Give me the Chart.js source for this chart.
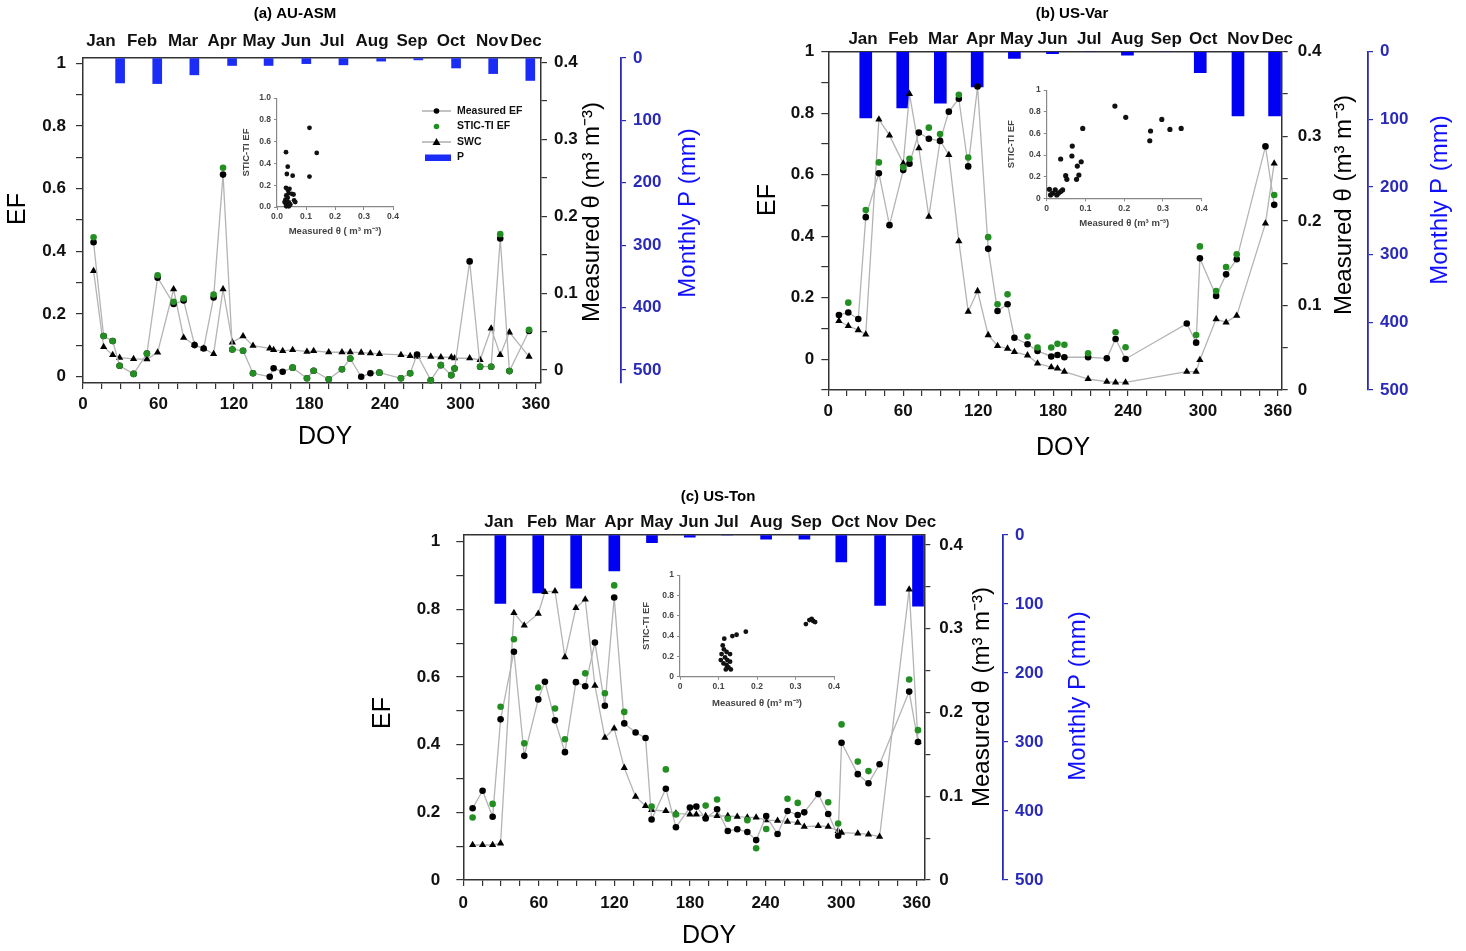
<!DOCTYPE html>
<html>
<head>
<meta charset="utf-8">
<script src="https://cdn.jsdelivr.net/npm/chart.js@4.4.1/dist/chart.umd.min.js"></script>
<style>
  body { margin: 0; background: #fff; width: 1466px; height: 951px; position: relative; overflow: hidden; }
  canvas { position: absolute; }
</style>
</head>
<body>
<canvas id="mainA"></canvas>
<canvas id="mainB"></canvas>
<canvas id="mainC"></canvas>
<canvas id="insetA"></canvas>
<canvas id="insetB"></canvas>
<canvas id="insetC"></canvas>
<script>
// ---- shared tick labels ----
const months = ["Jan", "Feb", "Mar", "Apr", "May", "Jun", "Jul", "Aug", "Sep", "Oct", "Nov", "Dec"];
const doyTicks = [0, 15, 30, 45, 60, 75, 90, 105, 120, 135, 150, 165, 180, 195, 210, 225, 240, 255, 270, 285, 300, 315, 330, 345, 360];
const doyLabels = [0, 60, 120, 180, 240, 300, 360];
const efTicks = [0, 0.1, 0.2, 0.3, 0.4, 0.5, 0.6, 0.7, 0.8, 0.9, 1];
const efTicksB = [-0.1, 0, 0.1, 0.2, 0.3, 0.4, 0.5, 0.6, 0.7, 0.8, 0.9, 1];
const efLabels = [0, 0.2, 0.4, 0.6, 0.8, 1];
const thetaTicks = [0, 0.05, 0.1, 0.15, 0.2, 0.25, 0.3, 0.35, 0.4];
const thetaLabels = [0, 0.1, 0.2, 0.3, 0.4];
const pTicks = [0, 100, 200, 300, 400, 500];
const insetXTicks = [0, 0.1, 0.2, 0.3, 0.4];
const insetYTicks = [0, 0.2, 0.4, 0.6, 0.8, 1];

// ---- (a) AU-ASM ----
const doyA = [8.4, 16.4, 23.6, 29.1, 40.2, 50.8, 59.3, 72, 80, 88.7, 95.9, 103.8, 111.3, 118.7, 127.2, 135.1, 148.4, 151.5, 158.7, 166.6, 178, 183.3, 195.3, 205.8, 212.4, 221.1, 228.4, 235.6, 252.7, 260, 265.5, 276.4, 284.4, 292.7, 295.3, 307.3, 315.6, 324.4, 331.6, 338.9, 354.5];
const efA = [0.429, 0.13, 0.114, 0.035, 0.009, 0.074, 0.316, 0.232, 0.243, 0.101, 0.09, 0.253, 0.645, 0.087, 0.083, 0.011, 0.0, 0.027, 0.016, 0.029, -0.005, 0.019, -0.008, 0.024, 0.058, 0.0, 0.011, 0.013, -0.005, 0.011, 0.071, -0.011, 0.037, 0.005, 0.026, 0.368, 0.032, 0.032, 0.441, 0.018, 0.146];
const sticA = [0.445, 0.13, 0.114, 0.035, 0.009, 0.074, 0.324, 0.239, 0.25, null, null, 0.262, 0.667, 0.087, 0.083, 0.011, null, null, null, 0.029, -0.005, 0.019, -0.008, 0.024, 0.058, null, null, 0.013, -0.005, 0.011, null, -0.011, 0.037, 0.005, 0.026, null, 0.032, 0.032, 0.455, 0.018, 0.15];
const swcA = [0.129, 0.030, 0.0195, 0.016, 0.0143, 0.0139, 0.0229, 0.105, 0.042, 0.0325, 0.028, 0.0208, 0.105, 0.036, 0.044, 0.0316, 0.028, 0.026, 0.0247, 0.026, 0.0238, 0.0247, 0.023, 0.023, 0.023, 0.0226, 0.0217, 0.0209, 0.0196, 0.0183, 0.0174, 0.0174, 0.0165, 0.0165, 0.0152, 0.0152, 0.013, 0.054, 0.0196, 0.049, 0.0174];
const rainDoyA = [29.5, 59, 88.5, 118.5, 147.5, 177.5, 207, 237, 266.5, 296.5, 326, 355.5];
const rainA = [40, 41, 27, 12, 12, 9, 11, 5, 3, 16, 25, 36];
const monthPosA = [14.3, 46.9, 79.5, 110.5, 139.9, 169.3, 198, 229.7, 261.5, 292.5, 325.1, 352.1];
const insetThA = [0.112, 0.137, 0.112, 0.031, 0.037, 0.034, 0.054, 0.031, 0.037, 0.043, 0.04, 0.051, 0.057, 0.032, 0.037, 0.029, 0.034, 0.041, 0.063, 0.059, 0.030, 0.037, 0.046, 0.032, 0.041, 0.026];
const insetEfA = [0.727, 0.497, 0.279, 0.503, 0.37, 0.303, 0.288, 0.176, 0.158, 0.167, 0.127, 0.121, 0.115, 0.106, 0.085, 0.067, 0.055, 0.042, 0.045, 0.061, 0.030, 0.018, 0.024, 0.006, 0.006, 0.045];

// ---- (b) US-Var ----
const doyB = [8.5, 16, 24, 30, 40.5, 49, 60, 65, 72.5, 80.5, 89.5, 96.5, 104.5, 112, 119.5, 128, 135.5, 143.5, 149, 159.5, 167.5, 178.5, 183.5, 189, 208, 223, 230, 238, 287, 294.5, 297.5, 310.5, 318.5, 327, 350, 357];
const efB = [0.144, 0.152, 0.131, 0.462, 0.605, 0.436, 0.615, 0.636, 0.737, 0.717, 0.71, 0.805, 0.847, 0.627, 0.887, 0.359, 0.157, 0.179, 0.07, 0.049, 0.027, 0.009, 0.014, 0.0065, 0.0065, 0.003, 0.066, 0.001, 0.116, 0.054, 0.328, 0.206, 0.276, 0.325, 0.692, 0.502];
const sticB = [null, 0.184, null, 0.485, 0.64, null, 0.624, 0.652, null, 0.753, 0.732, null, 0.86, 0.656, null, 0.397, 0.179, 0.211, null, 0.074, 0.038, 0.038, 0.05, 0.047, 0.0195, null, 0.088, 0.039, null, 0.079, 0.367, 0.222, 0.30, 0.341, null, 0.534];
const swcB = [0.0816, 0.0757, 0.0709, 0.0658, 0.320, 0.301, 0.268, 0.350, 0.286, 0.205, 0.295, 0.278, 0.176, 0.0926, 0.117, 0.065, 0.052, 0.049, 0.045, 0.041, 0.0315, 0.027, 0.0256, 0.0217, 0.013, 0.00985, 0.009, 0.009, 0.0217, 0.0217, 0.0355, 0.0839, 0.08, 0.0879, 0.197, 0.268];
const rainDoyB = [30, 59.6, 89.7, 119.2, 149, 179.5, 209.5, 239.5, 269.5, 297.8, 328, 357.3];
const rainB = [98, 83, 76, 52, 10, 3, 0, 5, 0, 31, 95, 95];
const monthPosB = [27.8, 60, 92, 121.9, 150.8, 179.6, 208.9, 239.4, 270.6, 300.2, 332.2, 359.6];
const insetThB = [0.007, 0.010, 0.015, 0.022, 0.026, 0.030, 0.036, 0.041, 0.036, 0.049, 0.052, 0.065, 0.066, 0.093, 0.077, 0.079, 0.083, 0.089, 0.176, 0.204, 0.266, 0.268, 0.297, 0.318, 0.347];
const insetEfB = [0.083, 0.031, 0.046, 0.077, 0.031, 0.046, 0.062, 0.077, 0.363, 0.209, 0.175, 0.391, 0.483, 0.646, 0.175, 0.298, 0.215, 0.338, 0.852, 0.748, 0.532, 0.622, 0.729, 0.637, 0.646];

// ---- (c) US-Ton ----
const doyC = [7.4, 15.3, 23.3, 29.6, 40.2, 48.4, 59.5, 64.8, 72.8, 80.7, 89.4, 96.8, 104.5, 112.4, 119.8, 127.8, 136.8, 144.7, 149.5, 160.8, 168.8, 179.9, 185, 192.4, 201.5, 210, 217.5, 225.5, 232.5, 240.5, 249.5, 257.4, 265.5, 270.7, 281.8, 289.7, 297.6, 300.3, 313.2, 321.7, 330.5, 354, 361];
const efC = [0.212, 0.264, 0.187, 0.475, 0.675, 0.367, 0.534, 0.586, 0.472, 0.378, 0.585, 0.573, 0.702, 0.515, 0.835, 0.463, 0.436, 0.42, 0.179, 0.27, 0.156, 0.214, 0.217, 0.182, 0.209, 0.145, 0.15, 0.142, 0.118, 0.189, 0.136, 0.204, 0.192, 0.2, 0.254, 0.195, 0.131, 0.406, 0.313, 0.286, 0.342, 0.557, 0.408];
const sticC = [0.185, null, 0.225, 0.512, 0.712, 0.404, 0.569, null, 0.507, 0.416, null, 0.611, null, 0.552, 0.871, 0.497, null, null, 0.217, 0.327, 0.194, null, null, 0.22, 0.238, 0.181, null, 0.177, 0.094, 0.151, null, 0.24, 0.228, null, null, 0.23, 0.167, 0.46, 0.35, 0.322, null, 0.593, 0.443];
const swcC = [0.0418, 0.0418, 0.0418, 0.0438, 0.319, 0.304, 0.318, 0.344, 0.345, 0.266, 0.325, 0.335, 0.232, 0.170, 0.181, 0.134, 0.0995, 0.0884, 0.0836, 0.0824, 0.0796, 0.0784, 0.0784, 0.0764, 0.0764, 0.0764, 0.0756, 0.0748, 0.0748, 0.0716, 0.0708, 0.0697, 0.0685, 0.0637, 0.0645, 0.0637, 0.0585, 0.0565, 0.0557, 0.0545, 0.0517, 0.347, 0.165];
const rainDoyC = [29.4, 59.5, 89.6, 119.9, 149.8, 179.8, 209.5, 240.4, 270.8, 300.1, 330.9, 361];
const rainC = [99, 84, 77, 52, 11, 3, 0, 6, 6, 39, 102, 103];
const monthPosC = [28.3, 62.5, 93, 123.6, 153.6, 183.1, 208.9, 240.6, 272.4, 303.4, 332.5, 363];
const insetThC = [0.115, 0.136, 0.147, 0.171, 0.111, 0.114, 0.121, 0.108, 0.130, 0.117, 0.106, 0.123, 0.130, 0.113, 0.121, 0.126, 0.119, 0.132, 0.327, 0.336, 0.342, 0.346, 0.351];
const insetEfC = [0.374, 0.40, 0.413, 0.443, 0.308, 0.269, 0.243, 0.223, 0.223, 0.19, 0.164, 0.164, 0.148, 0.131, 0.115, 0.092, 0.072, 0.072, 0.518, 0.557, 0.570, 0.548, 0.538];

const FONT = "'Liberation Sans', Arial, sans-serif";
const FRAME = "#333";
const LINE = "#b4b4b4";
const GREEN = "#238f23";
const PAXIS = "#2a2ab8";

const near = (arr, v) => arr.some((l) => Math.abs(l - v) < 1e-6);
const fmt = (v) => String(Math.round(v * 100) / 100);

// text drawn on top of a chart: titles and axis names
const textPlugin = {
  id: "panelText",
  afterDraw(chart, args, opts) {
    const ctx = chart.ctx;
    (opts.items || []).forEach((t) => {
      ctx.save();
      ctx.font = t.font;
      ctx.fillStyle = t.color || "#000";
      ctx.textAlign = "center";
      ctx.textBaseline = "middle";
      ctx.translate(t.x, t.y);
      if (t.rot) ctx.rotate(-Math.PI / 2);
      ctx.fillText(t.text, 0, 0);
      ctx.restore();
    });
  },
};

// legend of panel (a), inside the plot
const legendPlugin = {
  id: "legendBox",
  afterDraw(chart, args, opts) {
    if (!opts.show) return;
    const c = chart.ctx;
    const x0 = opts.x, y0 = opts.y, gap = 15.5;
    c.save();
    c.font = "bold 10.5px " + FONT;
    c.textBaseline = "middle";
    c.textAlign = "left";
    const row = (i, label, kind) => {
      const y = y0 + i * gap;
      if (kind === "line" || kind === "tri") {
        c.strokeStyle = "#999";
        c.lineWidth = 1.2;
        c.beginPath(); c.moveTo(x0, y); c.lineTo(x0 + 29, y); c.stroke();
      }
      c.fillStyle = kind === "green" ? GREEN : "#000";
      if (kind === "tri") {
        c.beginPath(); c.moveTo(x0 + 14.5, y - 4); c.lineTo(x0 + 18.5, y + 3); c.lineTo(x0 + 10.5, y + 3); c.closePath(); c.fill();
      } else if (kind === "box") {
        c.fillStyle = "#1a2cf5";
        c.fillRect(x0 + 3, y - 3, 26, 6.5);
      } else {
        c.beginPath(); c.arc(x0 + 14.5, y, 2.8, 0, Math.PI * 2); c.fill();
      }
      c.fillStyle = "#111";
      c.fillText(label, x0 + 35, y);
    };
    row(0, "Measured EF", "line");
    row(1, "STIC-TI EF", "green");
    row(2, "SWC", "tri");
    row(3, "P", "box");
    c.restore();
  },
};

function makePanel(o) {
  const cv = document.getElementById(o.id);
  cv.width = o.w; cv.height = o.h;
  cv.style.left = o.left + "px"; cv.style.top = o.top + "px";
  const a = { l: o.area.l - o.left, t: o.area.t - o.top, r: o.area.r - o.left, b: o.area.b - o.top };
  const pts = (ys) => o.doy.map((d, i) => ({ x: d, y: ys[i] }));
  const tickFont = { family: FONT, size: 17, weight: "bold" };
  const grid = { display: true, drawOnChartArea: false, drawTicks: true, tickLength: 6, color: FRAME, lineWidth: 1.2 };
  const border = { display: true, color: FRAME, width: 1.5 };
  const setTicks = (list) => (s) => { s.ticks = list.map((v) => ({ value: v })); };
  const rel = (t) => Object.assign({}, t, { x: t.x - o.left, y: t.y - o.top });

  new Chart(cv, {
    type: "line",
    data: {
      datasets: [
        { type: "line", label: "STIC-TI EF", data: pts(o.stic), yAxisID: "yEF", showLine: false,
          pointRadius: 3.3, pointBackgroundColor: GREEN, pointBorderWidth: 0, order: 1, clip: false },
        { type: "line", label: "Measured EF", data: pts(o.ef), yAxisID: "yEF", borderColor: LINE, borderWidth: 1.3,
          pointRadius: 3.3, pointBackgroundColor: "#000", pointBorderWidth: 0, order: 2, clip: false },
        { type: "line", label: "SWC", data: pts(o.swc), yAxisID: "yT", borderColor: LINE, borderWidth: 1.3,
          pointStyle: "triangle", pointRadius: 4.2, pointBackgroundColor: "#000", pointBorderWidth: 0, order: 3, clip: false },
        { type: "bar", label: "P", data: o.rainDoy.map((d, i) => ({ x: d, y: o.rain[i] })), xAxisID: "x", yAxisID: "yP",
          backgroundColor: o.barColor, barThickness: o.barW, order: 4 },
      ],
    },
    options: {
      responsive: false,
      animation: false,
      events: [],
      layout: { padding: 0 },
      plugins: {
        legend: { display: false },
        tooltip: { enabled: false },
        panelText: { items: o.texts.map(rel) },
        legendBox: { show: !!o.legend, x: o.legend ? o.legend.x - o.left : 0, y: o.legend ? o.legend.y - o.top : 0 },
      },
      scales: {
        x: {
          type: "linear", position: "bottom", min: 0, max: o.xMax, offset: false,
          afterBuildTicks: setTicks(doyTicks),
          afterFit: (s) => { s.height = o.h - a.b; },
          ticks: { autoSkip: false, maxRotation: 0, font: tickFont, color: "#111", padding: o.xPad,
                   callback: (v) => (near(doyLabels, v) ? String(v) : "") },
          grid: Object.assign({}, grid, { offset: false }), border,
        },
        xTop: {
          type: "linear", position: "top", min: 0, max: o.xMax, offset: false,
          afterBuildTicks: setTicks(o.monthPos),
          afterFit: (s) => { s.height = a.t; },
          ticks: { autoSkip: false, maxRotation: 0, font: tickFont, color: "#111", padding: o.monthPad,
                   callback: (v, i) => months[i] },
          grid: { display: true, drawOnChartArea: false, drawTicks: false, tickLength: 0, offset: false }, border,
        },
        yEF: {
          type: "linear", position: "left", min: o.efRange[0], max: o.efRange[1],
          afterBuildTicks: setTicks(o.efTicks),
          afterFit: (s) => { s.width = a.l; },
          ticks: { font: tickFont, color: "#111", padding: o.efPad,
                   callback: (v) => (near(efLabels, v) ? fmt(v) : "") },
          grid: Object.assign({}, grid, { tickLength: 7 }), border,
        },
        yT: {
          type: "linear", position: "right", weight: 1, min: o.thRange[0], max: o.thRange[1],
          afterBuildTicks: setTicks(thetaTicks),
          afterFit: (s) => { s.width = o.wT; },
          ticks: { font: tickFont, color: "#111", padding: o.thPad,
                   callback: (v) => (near(thetaLabels, v) ? fmt(v) : "") },
          grid, border,
        },
        yP: {
          type: "linear", position: "right", weight: 2, reverse: true, min: 0, max: o.pMax,
          afterBuildTicks: setTicks(pTicks),
          afterFit: (s) => { s.width = o.w - a.r - o.wT; },
          ticks: { font: tickFont, color: PAXIS, padding: 7, callback: (v) => String(v) },
          grid: Object.assign({}, grid, { color: PAXIS, tickLength: 5 }),
          border: { display: true, color: PAXIS, width: 1.8 },
        },
      },
    },
    plugins: [textPlugin, legendPlugin],
  });
}

function makeInset(o) {
  const cv = document.getElementById(o.id);
  cv.width = o.w; cv.height = o.h;
  cv.style.left = o.left + "px"; cv.style.top = o.top + "px";
  const a = { l: o.area.l - o.left, t: o.area.t - o.top, r: o.area.r - o.left, b: o.area.b - o.top };
  const f = { family: FONT, size: 8.5, weight: "bold" };
  const tf = { family: FONT, size: 9.5, weight: "bold" };
  const grid = { display: true, drawOnChartArea: false, tickLength: 3, color: "#888", lineWidth: 1 };
  const border = { display: true, color: "#888", width: 1.2 };
  const lab = (v) => (o.oneDecimal ? v.toFixed(1) : fmt(v));
  new Chart(cv, {
    type: "scatter",
    data: { datasets: [{ data: o.th.map((v, i) => ({ x: v, y: o.ef[i] })), pointRadius: o.r,
                         backgroundColor: "#111", borderWidth: 0, clip: false }] },
    options: {
      responsive: false, animation: false, events: [],
      layout: { padding: { top: a.t, right: o.w - a.r, left: 0, bottom: 0 } },
      plugins: { legend: { display: false }, tooltip: { enabled: false } },
      scales: {
        x: {
          type: "linear", min: 0, max: 0.4,
          afterBuildTicks: (s) => { s.ticks = insetXTicks.map((v) => ({ value: v })); },
          afterFit: (s) => { s.height = o.h - a.b; },
          ticks: { font: f, color: "#444", padding: 2, maxRotation: 0, autoSkip: false, callback: lab },
          grid, border,
          title: { display: true, text: o.xTitle, font: tf, color: "#444", padding: { top: 0, bottom: o.xtPad } },
        },
        y: {
          type: "linear", min: 0, max: 1,
          afterBuildTicks: (s) => { s.ticks = insetYTicks.map((v) => ({ value: v })); },
          afterFit: (s) => { s.width = a.l; },
          ticks: { font: f, color: "#444", padding: 3, autoSkip: false, callback: lab },
          grid, border,
          title: { display: true, text: "STIC-TI EF", font: tf, color: "#444", padding: { top: o.ytPad, bottom: 0 } },
        },
      },
    },
  });
}

const tFont = "bold 15px " + FONT;
const aFont = "25px " + FONT;
const sFont = "24px " + FONT;

makePanel({
  id: "mainA", left: 0, top: 0, w: 715, h: 460,
  area: { l: 83, t: 58, r: 541, b: 383 }, wT: 80, xMax: 364,
  efRange: [-0.02, 1.017], thRange: [-0.017, 0.406], pMax: 521,
  efTicks: efTicks, efPad: 10, thPad: 7, xPad: 5, monthPad: 6,
  doy: doyA, ef: efA, stic: sticA, swc: swcA, rainDoy: rainDoyA, rain: rainA, monthPos: monthPosA,
  barW: 9, barColor: "#1a2cf5",
  legend: { x: 422, y: 111 },
  texts: [
    { text: "(a) AU-ASM", x: 295, y: 14, font: tFont },
    { text: "DOY", x: 325, y: 437, font: aFont },
    { text: "EF", x: 18, y: 209, font: aFont, rot: true },
    { text: "Measured θ (m³ m⁻³)", x: 592, y: 212, font: sFont, rot: true },
    { text: "Monthly P (mm)", x: 688, y: 213, font: sFont, rot: true, color: "#1010ff" },
  ],
});

makePanel({
  id: "mainB", left: 750, top: 0, w: 716, h: 470,
  area: { l: 828.3, t: 51.7, r: 1281.7, b: 390 }, wT: 86.3, xMax: 363,
  efRange: [-0.1, 1.0], thRange: [0, 0.4], pMax: 500,
  efTicks: efTicksB, efPad: 7, thPad: 10, xPad: 5, monthPad: 2,
  doy: doyB, ef: efB, stic: sticB, swc: swcB, rainDoy: rainDoyB, rain: rainB, monthPos: monthPosB,
  barW: 12, barColor: "#0000f2",
  texts: [
    { text: "(b) US-Var", x: 1072, y: 14, font: tFont },
    { text: "DOY", x: 1063, y: 448, font: aFont },
    { text: "EF", x: 768, y: 200, font: aFont, rot: true },
    { text: "Measured θ (m³ m⁻³)", x: 1344, y: 205, font: sFont, rot: true },
    { text: "Monthly P (mm)", x: 1440, y: 200, font: sFont, rot: true, color: "#1010ff" },
  ],
});

makePanel({
  id: "mainC", left: 360, top: 480, w: 740, h: 471,
  area: { l: 463.3, t: 535, r: 924.3, b: 880 }, wT: 78.7, xMax: 366,
  efRange: [0, 1.02], thRange: [0, 0.412], pMax: 500,
  efTicks: efTicks, efPad: 16, thPad: 9, xPad: 7, monthPad: 2,
  doy: doyC, ef: efC, stic: sticC, swc: swcC, rainDoy: rainDoyC, rain: rainC, monthPos: monthPosC,
  barW: 11, barColor: "#0000f2",
  texts: [
    { text: "(c) US-Ton", x: 718, y: 497, font: tFont },
    { text: "DOY", x: 709, y: 936, font: aFont },
    { text: "EF", x: 383, y: 713, font: aFont, rot: true },
    { text: "Measured θ (m³ m⁻³)", x: 982, y: 697, font: sFont, rot: true },
    { text: "Monthly P (mm)", x: 1078, y: 696, font: sFont, rot: true, color: "#1010ff" },
  ],
});

makeInset({
  id: "insetA", left: 240, top: 90, w: 165, h: 150,
  area: { l: 277, t: 97, r: 393, b: 207 }, th: insetThA, ef: insetEfA, r: 2.4, oneDecimal: true,
  xTitle: "Measured θ ( m³ m⁻³)", xtPad: 3, ytPad: 1,
});
makeInset({
  id: "insetB", left: 1000, top: 82, w: 215, h: 150,
  area: { l: 1046.7, t: 90, r: 1201.7, b: 198.3 }, th: insetThB, ef: insetEfB, r: 2.6, oneDecimal: false,
  xTitle: "Measured θ (m³ m⁻³)", xtPad: 3, ytPad: 6,
});
makeInset({
  id: "insetC", left: 635, top: 567, w: 215, h: 145,
  area: { l: 680, t: 575, r: 834, b: 676.7 }, th: insetThC, ef: insetEfC, r: 2.4, oneDecimal: false,
  xTitle: "Measured θ (m³ m⁻³)", xtPad: 3, ytPad: 6,
});
</script>
</body>
</html>
